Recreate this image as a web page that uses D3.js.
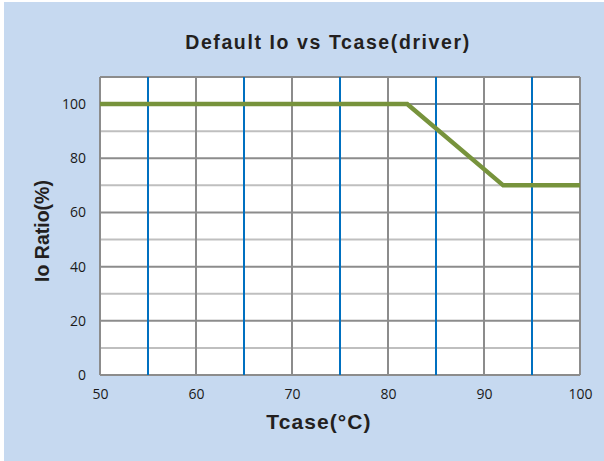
<!DOCTYPE html>
<html><head><meta charset="utf-8">
<script src="https://cdn.jsdelivr.net/npm/d3@7"></script>
<style>body{margin:0;background:#fff}</style>
</head><body>
<script>
const tcase = [50, 82, 92, 100];
const ioRatio = [100, 100, 70, 70];
const xTicks = [50, 60, 70, 80, 90, 100];
const yTicks = [0, 20, 40, 60, 80, 100];
const xBlue = [55, 65, 75, 85, 95];
const yMinor = [10, 30, 50, 70, 90];

const W = 604, H = 461;
const svg = d3.select("body").append("svg").attr("width", W).attr("height", H);
svg.append("rect").attr("x", 4).attr("y", 2).attr("width", W - 4).attr("height", H - 2).attr("fill", "#C6D9F0");

const x = d3.scaleLinear().domain([50, 100]).range([100, 580]);
const y = d3.scaleLinear().domain([0, 110]).range([375, 77]);

svg.append("rect").attr("x", x(50)).attr("y", y(110)).attr("width", x(100) - x(50)).attr("height", y(0) - y(110)).attr("fill", "#fff");

const g = svg.append("g");
g.selectAll(".ym").data(yMinor).join("line")
  .attr("x1", x(50)).attr("x2", x(100)).attr("y1", d => y(d)).attr("y2", d => y(d))
  .attr("stroke", "#BFBFBF").attr("stroke-width", 2);
g.selectAll(".yM").data(yTicks.concat([110])).join("line")
  .attr("x1", x(50)).attr("x2", x(100)).attr("y1", d => y(d)).attr("y2", d => y(d))
  .attr("stroke", "#8C8C8C").attr("stroke-width", 2);
g.selectAll(".xM").data(xTicks).join("line")
  .attr("x1", d => x(d)).attr("x2", d => x(d)).attr("y1", y(0)).attr("y2", y(110))
  .attr("stroke", "#8C8C8C").attr("stroke-width", 2);
g.selectAll(".xb").data(xBlue).join("line")
  .attr("x1", d => x(d)).attr("x2", d => x(d)).attr("y1", y(0)).attr("y2", y(110))
  .attr("stroke", "#0070C0").attr("stroke-width", 2);

const line = d3.line().x((d, i) => x(tcase[i])).y((d, i) => y(ioRatio[i]));
svg.append("path").datum(ioRatio).attr("d", line).attr("fill", "none")
  .attr("stroke", "#77933C").attr("stroke-width", 4.5).attr("stroke-linejoin", "miter");

const xAxis = d3.axisBottom(x).tickValues(xTicks).tickSize(0).tickPadding(14);
const xa = svg.append("g").attr("transform", `translate(0,${y(0)})`).call(xAxis);
xa.select(".domain").remove();
xa.selectAll("text").attr("font-family", "'Open Sans', sans-serif").attr("font-size", 14).attr("fill", "#1a1a1a");

const yAxis = d3.axisLeft(y).tickValues(yTicks).tickSize(0).tickPadding(14);
const ya = svg.append("g").attr("transform", `translate(${x(50)},0)`).call(yAxis);
ya.select(".domain").remove();
ya.selectAll("text").attr("font-family", "'Open Sans', sans-serif").attr("font-size", 14).attr("fill", "#1a1a1a");

svg.append("text").attr("x", 328).attr("y", 49).attr("text-anchor", "middle")
  .attr("font-family", "'Liberation Sans', Arial, sans-serif").attr("font-weight", "bold")
  .attr("font-size", 19.5).attr("letter-spacing", 1.6).attr("fill", "#231F20").text("Default Io vs Tcase(driver)");
svg.append("text").attr("x", 319).attr("y", 429).attr("text-anchor", "middle")
  .attr("font-family", "'Liberation Sans', Arial, sans-serif").attr("font-weight", "bold")
  .attr("font-size", 21).attr("letter-spacing", 1.1).attr("fill", "#231F20").text("Tcase(°C)");
svg.append("text").attr("transform", "translate(49,231) rotate(-90)").attr("text-anchor", "middle")
  .attr("font-family", "'Liberation Sans', Arial, sans-serif").attr("font-weight", "bold")
  .attr("font-size", 19.5).attr("letter-spacing", 0).attr("fill", "#231F20").text("Io Ratio(%)");
</script>
</body></html>
